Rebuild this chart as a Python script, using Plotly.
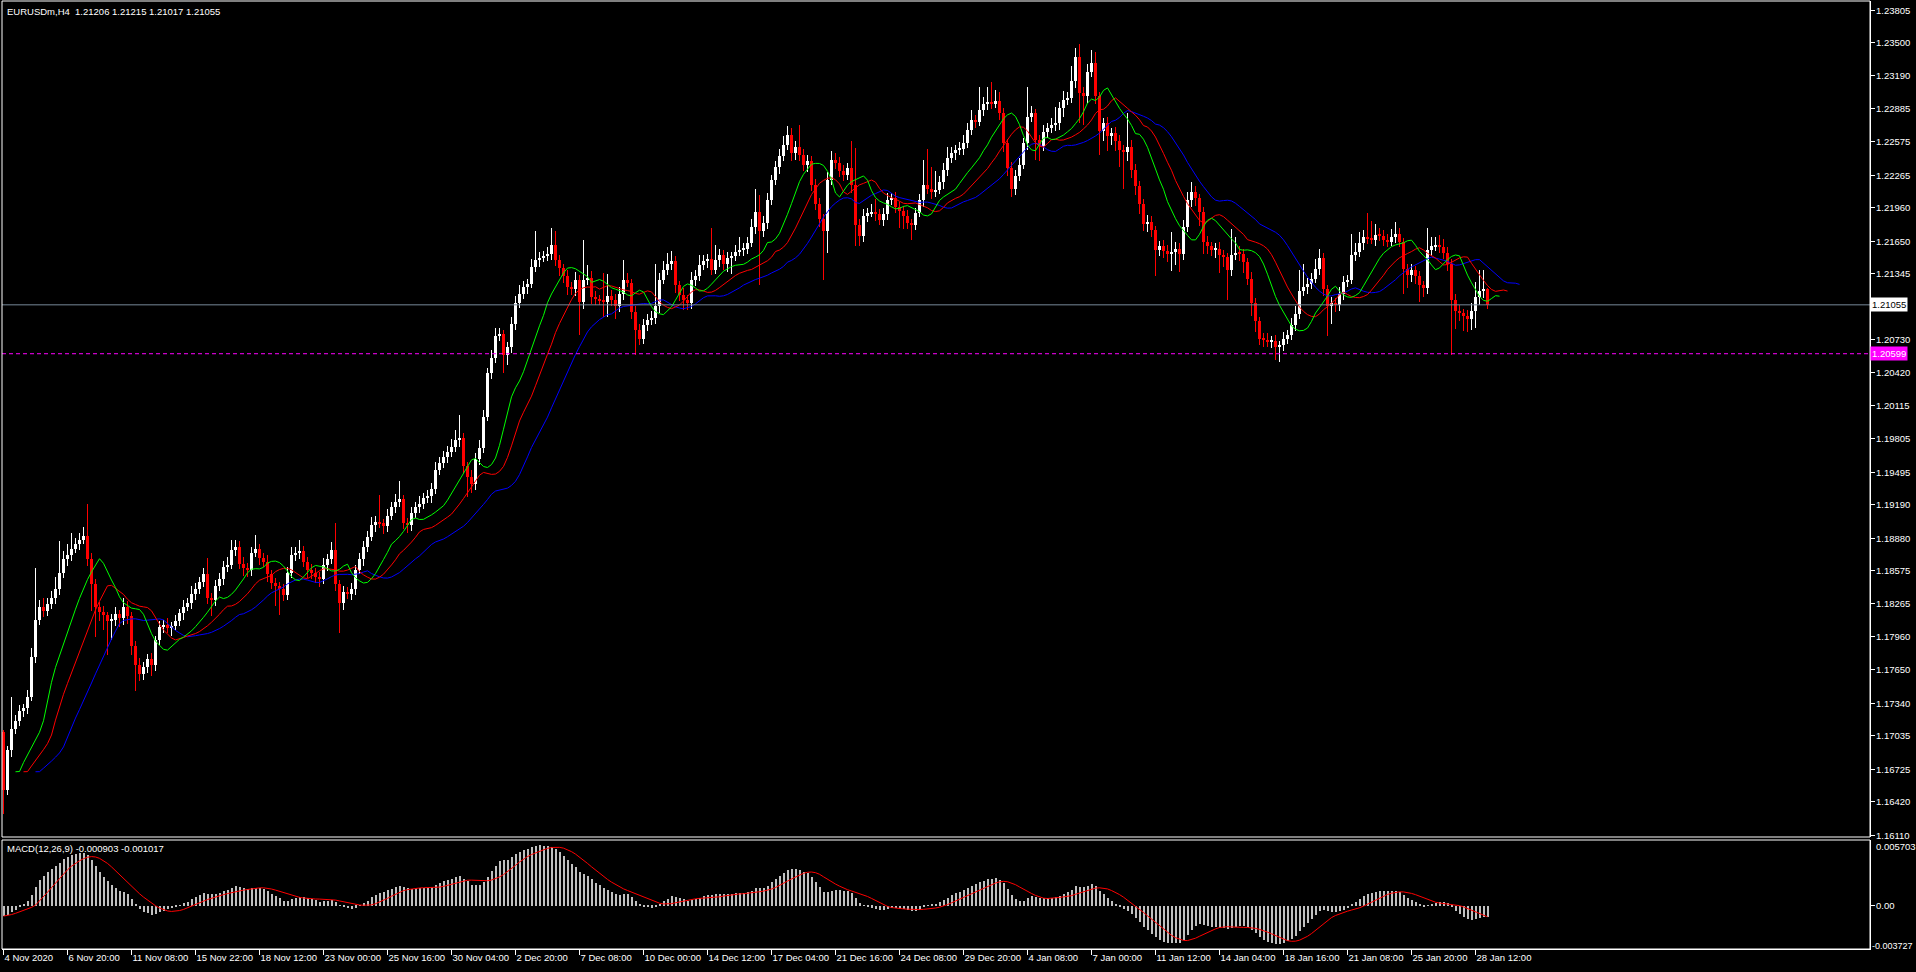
import plotly.graph_objects as go

# ---------------- data ----------------
symbol_title = "EURUSDm,H4  1.21206 1.21215 1.21017 1.21055"
macd_title = "MACD(12,26,9) -0.000903 -0.001017"

first_open = 1.1707
close = [
    1.1653, 1.1690, 1.1710, 1.1717, 1.1727, 1.1729, 1.1740, 1.1777, 1.1812, 1.1824,
    1.1820, 1.1826, 1.1832, 1.1840, 1.1855, 1.1868, 1.1872, 1.1878, 1.1882, 1.1886,
    1.1890, 1.1868, 1.1845, 1.1824, 1.1819, 1.1816, 1.1811, 1.1812, 1.1817, 1.1813,
    1.1824, 1.1815, 1.1787, 1.1770, 1.1761, 1.1768, 1.1775, 1.1770, 1.1793, 1.1805,
    1.1807, 1.1804, 1.1806, 1.1811, 1.1818, 1.1824, 1.1827, 1.1836, 1.1840, 1.1847,
    1.1854, 1.1832, 1.1830, 1.1843, 1.1850, 1.1861, 1.1863, 1.1877, 1.1880, 1.1864,
    1.1860, 1.1858, 1.1874, 1.1878, 1.1869, 1.1866, 1.1854, 1.1846, 1.1843, 1.1840,
    1.1835, 1.1855, 1.1872, 1.1874, 1.1876, 1.1866, 1.1858, 1.1855, 1.1852, 1.1850,
    1.1863, 1.1868, 1.1877, 1.1845, 1.1827, 1.1838, 1.1836, 1.1840, 1.1858, 1.1868,
    1.1880, 1.1889, 1.1900, 1.1903, 1.1902, 1.1899, 1.1909, 1.1917, 1.1922, 1.1924,
    1.1902, 1.1900, 1.1911, 1.1917, 1.1920, 1.1925, 1.1927, 1.1934, 1.1951, 1.1958,
    1.1964, 1.1968, 1.1973, 1.1979, 1.1981, 1.1955, 1.1945, 1.1938, 1.1962, 1.1972,
    1.2001, 1.2042, 1.2056, 1.2076, 1.2078, 1.2059, 1.2066, 1.2088, 1.2107, 1.2116,
    1.2122, 1.2125, 1.2141, 1.2147, 1.2149, 1.2151, 1.2153, 1.2161, 1.2147, 1.2140,
    1.2132, 1.2122, 1.2120, 1.2129, 1.2108, 1.2129, 1.2131, 1.2113, 1.2111, 1.2110,
    1.2108, 1.2114, 1.2110, 1.2104, 1.2116, 1.2129, 1.2126, 1.2099, 1.2082, 1.2074,
    1.2087, 1.2091, 1.2093, 1.2104, 1.2129, 1.2138, 1.2144, 1.2146, 1.2124, 1.2115,
    1.2110, 1.2107, 1.2129, 1.2132, 1.2143, 1.2146, 1.2148, 1.2138, 1.2147, 1.2152,
    1.2144, 1.2149, 1.2151, 1.2155, 1.2157, 1.2158, 1.2163, 1.2178, 1.2192, 1.2174,
    1.2182, 1.2203, 1.2222, 1.2234, 1.2244, 1.2255, 1.2264, 1.2247, 1.2253, 1.2245,
    1.2236, 1.2240, 1.2217, 1.2200, 1.2186, 1.2174, 1.2222, 1.2241, 1.2238, 1.2230,
    1.2227, 1.2233, 1.2217, 1.2180, 1.2170, 1.2188, 1.2191, 1.2192, 1.2190, 1.2185,
    1.2190, 1.2203, 1.2205, 1.2197, 1.2193, 1.2188, 1.2182, 1.2180, 1.2191, 1.2203,
    1.2217, 1.2214, 1.2211, 1.2213, 1.2220, 1.2231, 1.2242, 1.2247, 1.2250, 1.2251,
    1.2256, 1.2269, 1.2278, 1.2276, 1.2287, 1.2293, 1.2295, 1.2293, 1.2296, 1.2284,
    1.2256, 1.2233, 1.2214, 1.2226, 1.2236, 1.2256, 1.2281, 1.2284, 1.2259, 1.2254,
    1.2267, 1.2270, 1.2273, 1.2275, 1.2289, 1.2297, 1.2298, 1.2314, 1.2337, 1.2303,
    1.2300, 1.2323, 1.2331, 1.2300, 1.2268, 1.2275, 1.2263, 1.2266, 1.2258, 1.2250,
    1.2248, 1.2253, 1.2231, 1.2216, 1.2200, 1.2181, 1.2183, 1.2175, 1.2157, 1.2160,
    1.2156, 1.2153, 1.2155, 1.2158, 1.2153, 1.2178, 1.2203, 1.2211, 1.2205, 1.2192,
    1.2164, 1.2160, 1.2157, 1.2158, 1.2152, 1.2150, 1.2138, 1.2152, 1.2154, 1.2153,
    1.2145, 1.2130, 1.2107, 1.2090, 1.2074, 1.2073, 1.2071, 1.2072, 1.2066, 1.2068,
    1.2074, 1.2077, 1.2087, 1.2097, 1.2118, 1.2122, 1.2125, 1.2130, 1.2139, 1.2149,
    1.2120, 1.2104, 1.2107, 1.2105, 1.2116, 1.2127, 1.2129, 1.2152, 1.2155, 1.2163,
    1.2169, 1.2167, 1.2166, 1.2171, 1.2170, 1.2166, 1.2164, 1.2169, 1.2172, 1.2164,
    1.2139, 1.2133, 1.2138, 1.2132, 1.2124, 1.2121, 1.2157, 1.2160, 1.2161, 1.2159,
    1.2154, 1.2144, 1.2110, 1.2100, 1.2098, 1.2095, 1.2092, 1.2100, 1.2113, 1.2118,
    1.21206, 1.21055,
]
# upper / lower wick lengths in pips (0.0001)
wick_up = [
    2, 4, 30, 6, 5, 4, 6, 8, 48, 6,
    8, 6, 7, 12, 30, 8, 10, 15, 6, 7,
    8, 30, 6, 5, 4, 6, 3, 5, 7, 4,
    8, 5, 4, 5, 6, 4, 5, 6, 4, 6,
    5, 6, 4, 5, 4, 6, 5, 7, 6, 5,
    6, 15, 5, 6, 5, 6, 7, 9, 6, 5,
    6, 5, 6, 13, 4, 5, 6, 4, 5, 4,
    5, 6, 8, 6, 10, 5, 4, 6, 5, 4,
    6, 5, 7, 25, 4, 5, 4, 6, 5, 6,
    5, 6, 8, 6, 25, 4, 6, 5, 7, 17,
    4, 5, 6, 5, 7, 5, 6, 5, 8, 6,
    5, 6, 7, 10, 22, 5, 4, 6, 5, 7,
    6, 5, 7, 8, 6, 4, 5, 6, 7, 8,
    6, 5, 7, 27, 6, 5, 6, 16, 13, 5,
    4, 6, 5, 7, 4, 37, 12, 6, 5, 4,
    25, 20, 5, 6, 6, 18, 6, 4, 5, 6,
    5, 6, 7, 40, 6, 8, 10, 10, 5, 4,
    6, 5, 7, 6, 9, 6, 5, 29, 14, 6,
    5, 6, 4, 6, 12, 5, 6, 8, 22, 16,
    6, 7, 5, 6, 7, 8, 8, 6, 5, 20,
    6, 5, 4, 6, 5, 4, 7, 8, 6, 5,
    6, 5, 25, 35, 6, 7, 5, 8, 12, 5,
    6, 7, 5, 6, 4, 5, 6, 4, 5, 6,
    24, 34, 20, 17, 6, 7, 11, 6, 5, 6,
    8, 6, 9, 5, 22, 6, 14, 18, 10, 8,
    5, 4, 6, 5, 6, 5, 28, 7, 4, 5,
    6, 5, 7, 15, 6, 8, 6, 14, 8, 12,
    6, 7, 12, 10, 4, 5, 6, 4, 5, 6,
    5, 31, 6, 6, 5, 4, 6, 5, 4, 5,
    6, 5, 18, 6, 5, 7, 8, 9, 5, 4,
    5, 6, 4, 5, 6, 5, 4, 24, 15, 6,
    5, 4, 6, 5, 4, 5, 6, 4, 5, 4,
    6, 5, 6, 7, 20, 22, 6, 5, 9, 9,
    5, 4, 6, 5, 6, 5, 4, 20, 8, 10,
    6, 22, 17, 10, 6, 5, 6, 7, 11, 5,
    4, 5, 6, 4, 5, 4, 20, 9, 8, 10,
    8, 5, 4, 6, 5, 4, 6, 7, 14, 20,
    17, 0.9,
]
wick_dn = [
    22, 5, 6, 5, 4, 6, 5, 4, 6, 5,
    6, 5, 4, 6, 5, 4, 6, 5, 4, 5,
    4, 6, 25, 28, 8, 14, 32, 18, 6, 8,
    6, 7, 8, 25, 6, 5, 6, 11, 6, 5,
    6, 5, 7, 4, 5, 6, 4, 5, 6, 4,
    5, 6, 15, 5, 4, 6, 5, 4, 6, 5,
    7, 6, 5, 4, 6, 5, 7, 6, 18, 24,
    6, 5, 4, 5, 6, 5, 7, 5, 6, 8,
    5, 6, 4, 6, 28, 6, 5, 6, 5, 4,
    6, 5, 4, 6, 5, 7, 5, 4, 6, 5,
    6, 7, 5, 4, 6, 5, 4, 6, 5, 4,
    5, 6, 4, 5, 6, 6, 19, 8, 5, 6,
    5, 4, 6, 5, 4, 17, 10, 5, 6, 4,
    5, 6, 4, 5, 6, 4, 5, 6, 5, 8,
    6, 7, 5, 6, 31, 6, 5, 7, 6, 5,
    14, 14, 6, 12, 5, 6, 4, 7, 23, 6,
    5, 6, 4, 5, 6, 4, 5, 6, 7, 6,
    9, 6, 5, 6, 4, 5, 6, 5, 4, 6,
    6, 8, 15, 5, 4, 6, 5, 4, 6, 50,
    5, 6, 4, 5, 6, 4, 5, 7, 6, 5,
    6, 7, 5, 6, 8, 45, 20, 5, 6, 5,
    6, 5, 7, 20, 10, 6, 5, 4, 6, 5,
    6, 5, 4, 6, 16, 12, 6, 14, 5, 4,
    6, 5, 7, 5, 4, 6, 5, 4, 6, 5,
    6, 4, 5, 6, 4, 5, 6, 5, 4, 6,
    8, 7, 8, 6, 5, 4, 6, 5, 18, 14,
    5, 6, 4, 5, 6, 8, 5, 4, 6, 28,
    27, 6, 5, 7, 23, 10, 14, 8, 9, 16,
    34, 8, 7, 8, 10, 7, 8, 6, 25, 6,
    7, 8, 16, 12, 17, 6, 5, 6, 7, 13,
    11, 7, 6, 8, 17, 9, 28, 6, 5, 7,
    10, 6, 12, 10, 6, 7, 5, 6, 12, 14,
    6, 5, 4, 6, 5, 4, 6, 5, 4, 6,
    6, 28, 16, 6, 5, 6, 5, 4, 6, 5,
    6, 5, 4, 6, 5, 6, 5, 4, 6, 5,
    23, 12, 6, 7, 16, 8, 5, 6, 4, 5,
    6, 7, 51, 17, 8, 14, 12, 10, 16, 8,
    6, 3.8,
]
time_labels = [
    "4 Nov 2020", "6 Nov 20:00", "11 Nov 08:00", "15 Nov 22:00", "18 Nov 12:00",
    "23 Nov 00:00", "25 Nov 16:00", "30 Nov 04:00", "2 Dec 20:00", "7 Dec 08:00",
    "10 Dec 00:00", "14 Dec 12:00", "17 Dec 04:00", "21 Dec 16:00", "24 Dec 08:00",
    "29 Dec 20:00", "4 Jan 08:00", "7 Jan 00:00", "11 Jan 12:00", "14 Jan 04:00",
    "18 Jan 16:00", "21 Jan 08:00", "25 Jan 20:00", "28 Jan 12:00",
]
time_label_bars = [16 * k for k in range(len(time_labels))]
price_ticks = [
    1.23805, 1.23500, 1.23190, 1.22885, 1.22575, 1.22265, 1.21960, 1.21650, 1.21345,
    1.20730, 1.20420, 1.20115, 1.19805, 1.19495, 1.19190, 1.18880, 1.18575, 1.18265,
    1.17960, 1.17650, 1.17340, 1.17035, 1.16725, 1.16420, 1.16110,
]
bid_price = 1.21055
hline_price = 1.20599
macd_max_label = 0.005703
macd_min_label = -0.003727
# EMA state carried in from the bars before the visible window (MACD starts below zero)
ema12_seed = 1.1694
ema26_seed = 1.1700

# ---------------- derived series ----------------
n = len(close)
assert len(wick_up) == n and len(wick_dn) == n, (n, len(wick_up), len(wick_dn))
PIP = 0.0001
opens = [first_open] + close[:-1]
highs = [max(o, c) + u * PIP for o, c, u in zip(opens, close, wick_up)]
lows = [min(o, c) - d * PIP for o, c, d in zip(opens, close, wick_dn)]
idx = list(range(n))


def smma(vals, p):
    out, s = [], vals[0]
    for v in vals:
        s = (s * (p - 1) + v) / p
        out.append(s)
    return out


def ema(vals, p, seed):
    k = 2.0 / (p + 1)
    out, e = [], seed
    for v in vals:
        e = e + k * (v - e)
        out.append(e)
    return out


median = [(h + l) / 2 for h, l in zip(highs, lows)]
jaw = smma(median, 13)
teeth = smma(median, 8)
lips = smma(median, 5)

e12, e26 = ema(close, 12, ema12_seed), ema(close, 26, ema26_seed)
macd = [a - b for a, b in zip(e12, e26)]
signal = [sum(macd[max(0, i - 8):i + 1]) / len(macd[max(0, i - 8):i + 1]) for i in range(n)]

# ---------------- figure ----------------
W, H = 1916, 972
ML, MR, MT, MB = 2, 46, 1, 23
plot_h = H - MT - MB
main_bottom_px = 837
macd_top_px = 840
main_dom0 = (H - MB - main_bottom_px) / plot_h
macd_dom1 = (H - MB - macd_top_px) / plot_h

FONT = "Liberation Sans, Arial, sans-serif"
FS = 9.5
WHITE = "#FFFFFF"

up_i = [i for i in idx if close[i] >= opens[i]]
dn_i = [i for i in idx if close[i] < opens[i]]

fig = go.Figure()


def add_candles(ids, color):
    fig.add_trace(go.Bar(
        x=ids, y=[highs[i] - lows[i] for i in ids], base=[lows[i] for i in ids],
        width=0.25, marker=dict(color=color, line=dict(width=0)),
        xaxis="x", yaxis="y", hoverinfo="skip", showlegend=False))
    fig.add_trace(go.Bar(
        x=ids, y=[max(abs(close[i] - opens[i]), 0.00004) for i in ids],
        base=[min(close[i], opens[i]) for i in ids],
        width=0.75, marker=dict(color=color, line=dict(width=0)),
        xaxis="x", yaxis="y", hoverinfo="skip", showlegend=False))


add_candles(up_i, WHITE)
add_candles(dn_i, "#FF0000")

for vals, shift, col in [(jaw, 8, "#0000FF"), (teeth, 5, "#FF0000"), (lips, 3, "#00FF00")]:
    fig.add_trace(go.Scatter(
        x=[i + shift for i in idx], y=vals, mode="lines",
        line=dict(color=col, width=1), xaxis="x", yaxis="y",
        hoverinfo="skip", showlegend=False))

fig.add_trace(go.Bar(
    x=idx, y=macd, width=0.5, marker=dict(color="#C0C0C0", line=dict(width=0)),
    xaxis="x2", yaxis="y2", hoverinfo="skip", showlegend=False))
fig.add_trace(go.Scatter(
    x=idx, y=signal, mode="lines", line=dict(color="#FF0000", width=1),
    xaxis="x2", yaxis="y2", hoverinfo="skip", showlegend=False))

# 4 px per bar; offset so that bar centres fall on pixel centres
xr = [-0.375, (W - ML - MR) / 4 - 0.375]

shapes = [
    dict(type="line", xref="paper", yref="y", x0=0, x1=1, y0=bid_price, y1=bid_price,
         line=dict(color="#778899", width=1)),
    dict(type="line", xref="paper", yref="y", x0=0, x1=1, y0=hline_price, y1=hline_price,
         line=dict(color="#FF00FF", width=1, dash="4px,3px")),
    dict(type="rect", xref="paper", yref="paper", x0=0, x1=1, y0=main_dom0, y1=1,
         line=dict(color=WHITE, width=1)),
    dict(type="rect", xref="paper", yref="paper", x0=0, x1=1, y0=0, y1=macd_dom1,
         line=dict(color=WHITE, width=1)),
]

tfont = dict(family=FONT, size=FS, color=WHITE)
annotations = [
    dict(text=symbol_title, xref="paper", yref="paper", x=0, y=1, xanchor="left", yanchor="top",
         xshift=3, yshift=-3, showarrow=False, font=tfont),
    dict(text=macd_title, xref="paper", yref="paper", x=0, y=macd_dom1, xanchor="left",
         yanchor="top", xshift=3, yshift=-1, showarrow=False, font=tfont),
]
for v in price_ticks:
    annotations.append(dict(text="%.5f" % v, xref="paper", yref="y", x=1, y=v, xanchor="left",
                            yanchor="middle", xshift=4, showarrow=False, font=tfont))
annotations += [
    dict(text="%.5f" % bid_price, xref="paper", yref="y", x=1, y=bid_price, xanchor="left",
         yanchor="middle", xshift=0, showarrow=False, bgcolor=WHITE, borderpad=1,
         font=dict(family=FONT, size=FS, color="#000000")),
    dict(text="%.5f" % hline_price, xref="paper", yref="y", x=1, y=hline_price, xanchor="left",
         yanchor="middle", xshift=0, showarrow=False, bgcolor="#FF00FF", borderpad=1,
         font=tfont),
    dict(text="%.6f" % macd_max_label, xref="paper", yref="y2", x=1, y=macd_max_label,
         xanchor="left", yanchor="top", xshift=4, yshift=1, showarrow=False, font=tfont),
    dict(text="0.00", xref="paper", yref="y2", x=1, y=0,
         xanchor="left", yanchor="middle", xshift=4, showarrow=False, font=tfont),
    dict(text="%.6f" % macd_min_label, xref="paper", yref="y2", x=1, y=macd_min_label,
         xanchor="left", yanchor="bottom", xshift=0, yshift=-4, showarrow=False,
         font=dict(family=FONT, size=9, color=WHITE)),
]

px_per_price = 0.07695 / 825.0
fig.update_layout(
    width=W, height=H,
    margin=dict(l=ML, r=MR, t=MT, b=MB, pad=0),
    paper_bgcolor="#000000", plot_bgcolor="#000000",
    barmode="overlay", bargap=0, hovermode=False, showlegend=False,
    font=tfont,
    xaxis=dict(domain=[0, 1], range=xr, anchor="y", showgrid=False, zeroline=False,
               showticklabels=False, ticks="", showline=False),
    yaxis=dict(domain=[main_dom0, 1],
               range=[1.16110 - 2 * px_per_price, 1.23805 + 9 * px_per_price],
               side="right", anchor="x", tickmode="array", tickvals=price_ticks,
               showticklabels=False, ticks="outside", ticklen=4,
               tickcolor=WHITE, showline=True, linecolor=WHITE, linewidth=1,
               showgrid=False, zeroline=False),
    xaxis2=dict(domain=[0, 1], range=xr, anchor="y2", showgrid=False, zeroline=False,
                tickmode="array", tickvals=time_label_bars, ticktext=time_labels,
                tickangle=0, ticks="outside", ticklen=5, tickcolor=WHITE,
                ticklabelposition="outside right",
                showline=True, linecolor=WHITE, linewidth=1, tickfont=tfont),
    yaxis2=dict(domain=[0, macd_dom1], range=[macd_min_label, macd_max_label], side="right",
                anchor="x2", tickmode="array", tickvals=[0], showticklabels=False,
                ticks="outside", ticklen=4, tickcolor=WHITE, showline=True, linecolor=WHITE,
                linewidth=1, showgrid=False, zeroline=False),
    shapes=shapes, annotations=annotations,
)

fig.write_html("out.html", config={"displayModeBar": False})

# remove the default page margin so the figure sits at the window's top-left corner
with open("out.html", "r", encoding="utf-8") as f:
    page = f.read()
page = page.replace("<head>", "<head><style>html,body{margin:0;padding:0;overflow:hidden;background:#000}</style>", 1)
with open("out.html", "w", encoding="utf-8") as f:
    f.write(page)
